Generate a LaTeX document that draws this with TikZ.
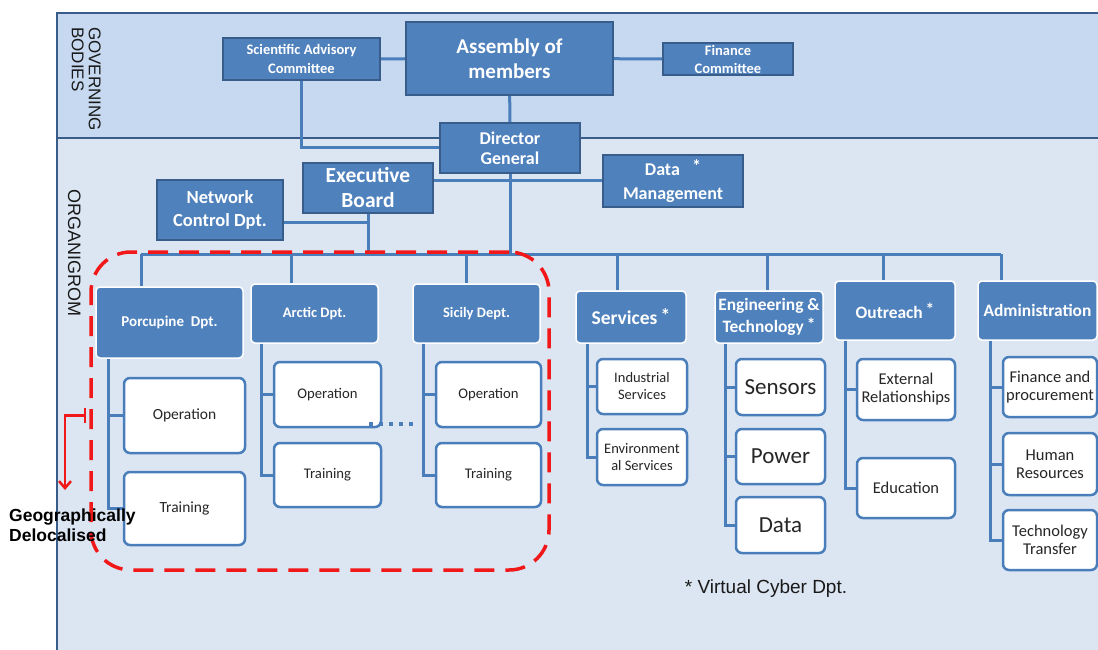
\documentclass[tikz,border=0pt]{standalone}
\usepackage{fontspec}
\setmainfont{Carlito}
\newfontfamily\arialfont{Liberation Sans}
\usetikzlibrary{arrows.meta, positioning, calc}
\definecolor{orgblue}{HTML}{4F81BD}
\definecolor{orgdark}{HTML}{385D8A}
\definecolor{govbg}{HTML}{C6D9F0}
\definecolor{orgbg}{HTML}{DCE6F2}
\definecolor{linkblue}{HTML}{4A7EBB}
\definecolor{geored}{HTML}{F01818}
\newcommand{\fsz}[2]{\fontsize{#1}{#2}\selectfont}

\begin{document}
\begin{tikzpicture}[x=1pt, y=-1pt,
    board/.style={rectangle, draw=orgdark, line width=2pt, fill=orgblue, text=white, font=\bfseries, align=center, inner sep=1pt},
    dept/.style={rectangle, rounded corners=4pt, draw=white, line width=1.5pt, fill=orgblue, text=white, font=\bfseries, align=center, inner sep=1pt},
    unit/.style={rectangle, rounded corners=6pt, draw=linkblue, line width=2.5pt, fill=white, text=black!85, align=center, inner sep=1pt},
    link/.style={draw=linkblue, line width=3pt},
    geoline/.style={draw=geored, line width=3.5pt, dash pattern=on 20pt off 11pt},
    geoarrow/.style={draw=geored, line width=2.5pt, {Bar[width=15pt]}-{Straight Barb[length=7pt, width=12pt]}},
    band/.style={font=\arialfont\fsz{17}{17}, text=black!90, rotate=-90, align=left, inner sep=0pt}
]
\useasboundingbox (0,0) rectangle (1098,650);

% Background bands
\fill[govbg] (57,13) rectangle (1098,138);
\fill[orgbg] (57,138) rectangle (1098,650);
\draw[orgdark, line width=2.5pt] (57,650) -- (57,13) -- (1098,13);
\draw[orgdark, line width=2pt] (57,138) -- (1098,138);
\node[band, anchor=north west] (govlbl) at (101,27) {GOVERNING\\BODIES};
\node[band, font=\arialfont\fsz{18}{18}, anchor=north west] (orglbl) at (81,189) {ORGANIGROM};

% Governing bodies
\node[board, minimum width=157pt, minimum height=42pt, font=\bfseries\fsz{14.5}{19}] (sci) at (301.5,59) {Scientific Advisory\\Committee};
\node[board, minimum width=207pt, minimum height=73pt, font=\bfseries\fsz{21}{25}] (asm) at (509.5,58.5) {Assembly of\\members};
\node[board, minimum width=130pt, minimum height=32pt, font=\bfseries\fsz{14.5}{18}] (fin) at (728,59) {Finance\\Committee};

% Direction
\node[board, minimum width=140pt, minimum height=50pt, font=\bfseries\fsz{18}{20}] (dg) at (510,148) {Director\\General};
\node[board, minimum width=130pt, minimum height=50pt, font=\bfseries\fsz{21.5}{25}] (eb) at (368,188) {Executive\\Board};
\node[board, minimum width=140pt, minimum height=52pt, font=\bfseries\fsz{18}{24}] (dm) at (673,181) {Data~~~\raisebox{3pt}{*}\\Management};
\node[board, minimum width=126pt, minimum height=60pt, font=\bfseries\fsz{18.5}{23}] (ncd) at (220,210) {Network\\Control Dpt.};

% Departments
\node[dept, minimum width=147pt, minimum height=71pt, font=\bfseries\fsz{15}{17}] (por) at (169.5,322.5) {Porcupine~ Dpt.};
\node[dept, minimum width=127pt, minimum height=59pt, font=\bfseries\fsz{14.5}{17}] (arc) at (314.5,313.5) {Arctic Dpt.};
\node[dept, minimum width=127pt, minimum height=59pt, font=\bfseries\fsz{14.5}{17}] (sic) at (476.5,313.5) {Sicily Dept.};
\node[dept, minimum width=110pt, minimum height=52pt, font=\bfseries\fsz{19.5}{22}] (ser) at (631,317) {Services\,\raisebox{2pt}{*}};
\node[dept, minimum width=108pt, minimum height=52pt, font=\bfseries\fsz{17.4}{22}] (eng) at (769,317) {Engineering \&\\Technology\,\raisebox{2pt}{*}};
\node[dept, minimum width=120pt, minimum height=59pt, font=\bfseries\fsz{17.4}{20}] (out) at (895,310.5) {Outreach\,\raisebox{3pt}{*}};
\node[dept, minimum width=119pt, minimum height=59pt, font=\bfseries\fsz{17.4}{20}] (adm) at (1037.5,310.5) {Administration};

% Units
\node[unit, minimum width=121pt, minimum height=75pt, font=\fsz{15.5}{18}] (porop) at (184.5,415.5) {Operation};
\node[unit, minimum width=121pt, minimum height=73pt, font=\fsz{15.5}{18}] (portr) at (184.5,508.5) {Training};
\node[unit, minimum width=107pt, minimum height=65pt, font=\fsz{14.7}{18}] (arcop) at (327.5,394.5) {Operation};
\node[unit, minimum width=107pt, minimum height=64pt, font=\fsz{14.7}{18}] (arctr) at (327.5,475) {Training};
\node[unit, minimum width=105pt, minimum height=65pt, font=\fsz{14.7}{18}] (sicop) at (488.5,394.5) {Operation};
\node[unit, minimum width=105pt, minimum height=64pt, font=\fsz{14.7}{18}] (sictr) at (488.5,475) {Training};
\node[unit, minimum width=90pt, minimum height=55pt, font=\fsz{14.5}{17}] (ind) at (642,386.5) {Industrial\\Services};
\node[unit, minimum width=90pt, minimum height=56pt, font=\fsz{14.5}{17}] (env) at (642,457) {Environment\\al Services};
\node[unit, minimum width=89pt, minimum height=56pt, font=\fsz{23}{26}] (sen) at (780.5,387) {Sensors};
\node[unit, minimum width=89pt, minimum height=55pt, font=\fsz{23}{26}] (pow) at (780.5,456.5) {Power};
\node[unit, minimum width=89pt, minimum height=56pt, font=\fsz{23}{26}] (dat) at (780.5,525) {Data};
\node[unit, minimum width=98pt, minimum height=61pt, font=\fsz{16.5}{18}] (ext) at (906,389.5) {External\\Relationships};
\node[unit, minimum width=98pt, minimum height=60pt, font=\fsz{16.5}{18}] (edu) at (906,488) {Education};
\node[unit, minimum width=94pt, minimum height=60pt, font=\fsz{16.5}{18}] (fp) at (1050,387) {Finance and\\procurement};
\node[unit, minimum width=94pt, minimum height=62pt, font=\fsz{16.5}{18}] (hr) at (1050,464) {Human\\Resources};
\node[unit, minimum width=94pt, minimum height=60pt, font=\fsz{16.5}{18}] (tt) at (1050,540) {Technology\\Transfer};

% Governing links
\draw[link] (sci) -- (asm);
\draw[link] (asm) -- (fin);
\draw[link] (asm) -- (dg);
\draw[link] (sci.south) |- (dg.west);
\draw[link] (eb.east |- dm.west) -- (dm.west);
\coordinate (ncdlink) at ([yshift=-12pt]ncd.east);
\draw[link] (ncdlink) -- (ncdlink -| eb.south);

% Main bus
\foreach \x/\n in {141/por, 291/arc, 466/sic, 617/ser, 767/eng, 883/out, 1001/adm}{
  \coordinate (tap-\n) at (\x,254);
  \draw[link] (tap-\n) -- (tap-\n |- \n.north);
}
\draw[link] (tap-por) -- (tap-adm);
\draw[link] (dg.south) -- (dg.south |- tap-por);
\draw[link] (eb.south) -- (eb.south |- tap-por);

% Unit links
\foreach \d/\s/\c in {por/13/porop, por/13/portr, arc/11/arcop, arc/11/arctr, sic/11/sicop, sic/11/sictr,
    ser/12/ind, ser/12/env, eng/11/sen, eng/11/pow, eng/11/dat, out/11/ext, out/11/edu, adm/13/fp, adm/13/hr, adm/13/tt}
  \draw[link] ([xshift=\s pt]\d.south west) |- (\c.west);
\draw[linkblue, line width=4pt, dash pattern=on 4pt off 6pt] ([shift={(-13pt,4pt)}]arcop.south east) -- ++(48,0);

% Delocalised group
\node[geoline, rectangle, rounded corners=40pt, minimum width=458pt, minimum height=318pt] (geo) at (320,411) {};
\coordinate (geoend) at (65,490);
\draw[geoarrow] ([xshift=-3pt]geo.west |- porop.west) -| (geoend);
\node[anchor=north west, font=\arialfont\bfseries\fsz{17.5}{20}, align=left, inner sep=0pt] (geolbl) at (9,509) {Geographically\\Delocalised};

% Note
\node[font=\arialfont\fsz{19}{21}, text=black!90] (note) at (766,589) {* Virtual Cyber Dpt.};

\end{tikzpicture}
\end{document}
